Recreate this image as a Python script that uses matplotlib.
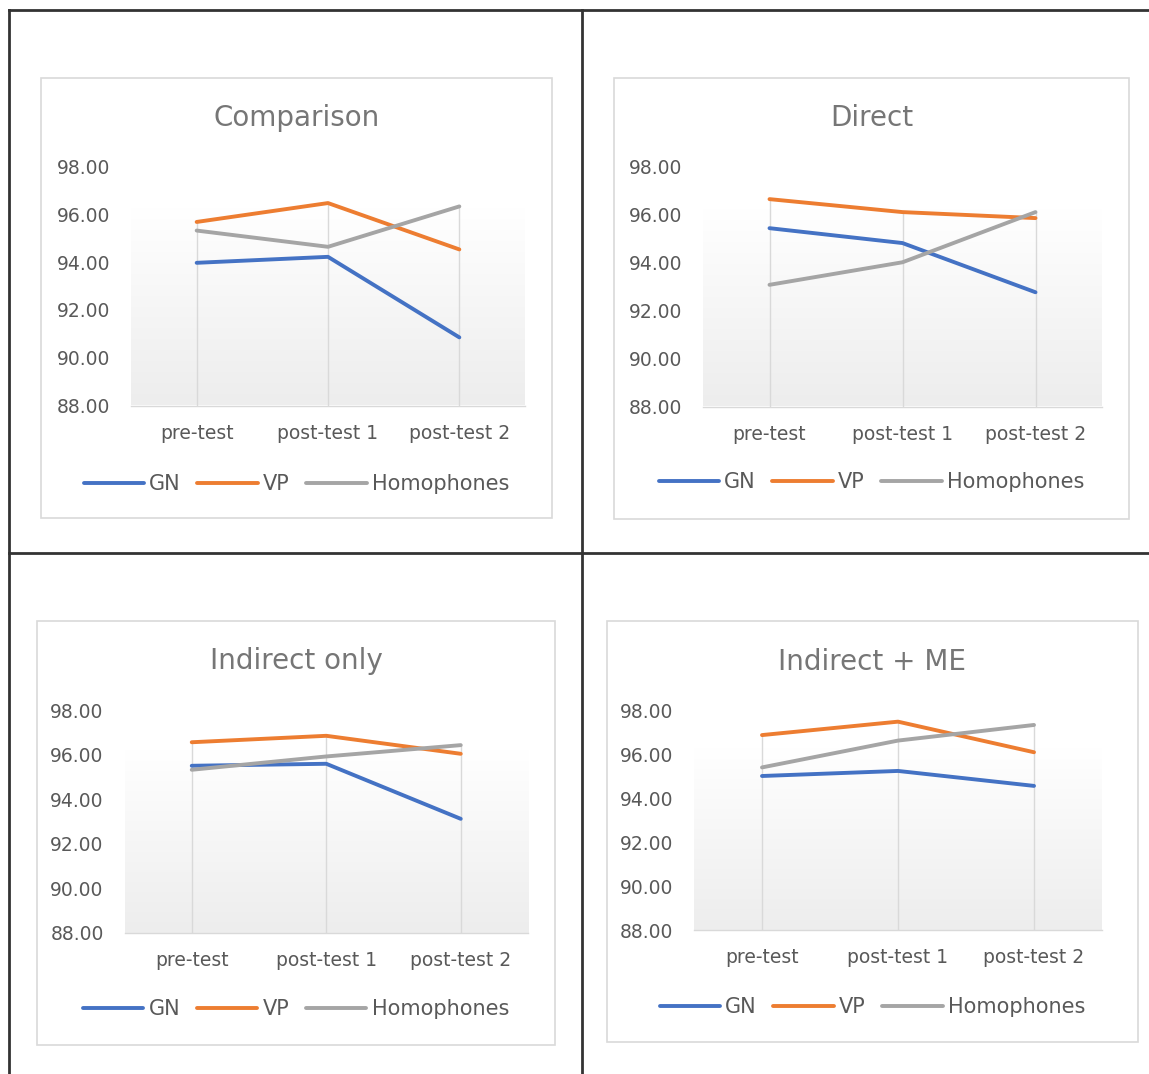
import matplotlib
matplotlib.use('Agg')

import matplotlib.pyplot as plt
import numpy as np
from matplotlib.patches import Rectangle
from matplotlib.lines import Line2D
from matplotlib.colors import LinearSegmentedColormap

# Accuracy scores per condition (GN, VP, Homophones) at each test point
stages = ["pre-test", "post-test 1", "post-test 2"]
series_names = ["GN", "VP", "Homophones"]

comparison_gn = [93.97, 94.22, 90.85]
comparison_vp = [95.68, 96.47, 94.53]
comparison_hom = [95.32, 94.64, 96.33]

direct_gn = [95.43, 94.81, 92.76]
direct_vp = [96.64, 96.10, 95.85]
direct_hom = [93.07, 94.01, 96.10]

indirect_gn = [95.51, 95.60, 93.12]
indirect_vp = [96.57, 96.86, 96.05]
indirect_hom = [95.33, 95.93, 96.44]

indirect_me_gn = [95.00, 95.23, 94.55]
indirect_me_vp = [96.86, 97.47, 96.08]
indirect_me_hom = [95.39, 96.61, 97.32]

yticks = [88, 90, 92, 94, 96, 98]

W, H = 1149, 1074
colors = ["#4472C4", "#ED7D31", "#A5A5A5"]
text_grey = "#595959"
plt.rcParams['font.family'] = ['DejaVu Sans']

fig = plt.figure(figsize=(W / 100, H / 100), dpi=100)


def fx(x):
    return x / W


def fy(y):
    return 1 - y / H


# table grid around the four charts
grid_kw = dict(color="#333333", linewidth=2.0)
fig.add_artist(Line2D([fx(9), 1], [fy(10), fy(10)], **grid_kw))
fig.add_artist(Line2D([fx(9), fx(9)], [fy(10), 0], **grid_kw))
fig.add_artist(Line2D([fx(582), fx(582)], [fy(10), 0], **grid_kw))
fig.add_artist(Line2D([fx(9), 1], [fy(553), fy(553)], **grid_kw))

grad_cmap = LinearSegmentedColormap.from_list(
    "plotfill", [(0.0, "#ffffff"), (0.18, "#ffffff"), (1.0, "#ededed")])

# (title, data, chart box, plot area left/right/top(98)/bottom(88), title y, legend y)
panels = [
    ("Comparison", (comparison_gn, comparison_vp, comparison_hom),
     (41, 78, 552, 518), (131, 525, 166.5, 405.5), 118, 484),
    ("Direct", (direct_gn, direct_vp, direct_hom),
     (614, 78, 1129, 519), (703, 1102, 166.5, 406.5), 118, 482),
    ("Indirect only", (indirect_gn, indirect_vp, indirect_hom),
     (37, 621, 555, 1045), (124.5, 528, 710.5, 932.5), 661, 1009),
    ("Indirect + ME", (indirect_me_gn, indirect_me_vp, indirect_me_hom),
     (607, 621, 1138, 1042), (694, 1102, 710, 930), 662, 1007),
]

x = np.arange(len(stages))

for title, data, box, area, title_y, legend_y in panels:
    bx0, by0, bx1, by1 = box
    fig.add_artist(Rectangle((fx(bx0), fy(by1)), fx(bx1 - bx0), (by1 - by0) / H,
                             transform=fig.transFigure, fill=False,
                             edgecolor="#d9d9d9", linewidth=1.2))

    px0, px1, py_top, py_bot = area
    ax = fig.add_axes([fx(px0), fy(py_bot), fx(px1 - px0), (py_bot - py_top) / H])
    ax.set_facecolor("white")

    grad = np.linspace(0, 1, 256).reshape(-1, 1)
    ax.imshow(grad, cmap=grad_cmap, extent=[0, 1, 0, 1], origin="upper",
              aspect="auto", transform=ax.transAxes, zorder=0)

    # category gridlines run up to the highest series at each stage
    tops = np.max(np.array(data), axis=0)
    ax.vlines(x, 88, tops, color="#d9d9d9", linewidth=1.0, zorder=1)

    handles = []
    for vals, name, c in zip(data, series_names, colors):
        h, = ax.plot(x, vals, color=c, linewidth=2.8, label=name, zorder=3,
                     solid_capstyle="round", solid_joinstyle="round")
        handles.append(h)

    ax.set_xlim(-0.5, 2.5)
    ax.set_ylim(88, 98)
    ax.set_yticks(yticks)
    ax.set_yticklabels(["{:.2f}".format(v) for v in yticks])
    ax.set_xticks(x)
    ax.set_xticklabels(stages)
    ax.tick_params(axis="y", length=0, pad=15, labelsize=13.5, labelcolor=text_grey)
    ax.tick_params(axis="x", length=0, pad=13, labelsize=13.5, labelcolor=text_grey)

    for side in ["top", "left", "right"]:
        ax.spines[side].set_visible(False)
    ax.spines["bottom"].set_color("#d9d9d9")
    ax.spines["bottom"].set_linewidth(1.0)

    fig.text(fx((bx0 + bx1) / 2), fy(title_y), title, ha="center", va="center",
             fontsize=20, color="#767676")

    ax.legend(handles=handles, loc="center",
              bbox_to_anchor=(fx((bx0 + bx1) / 2), fy(legend_y)),
              bbox_transform=fig.transFigure, ncol=3, frameon=False,
              fontsize=15, labelcolor=text_grey, handlelength=2.9,
              handletextpad=0.25, columnspacing=0.8)

plt.savefig("out.png", dpi=100)
